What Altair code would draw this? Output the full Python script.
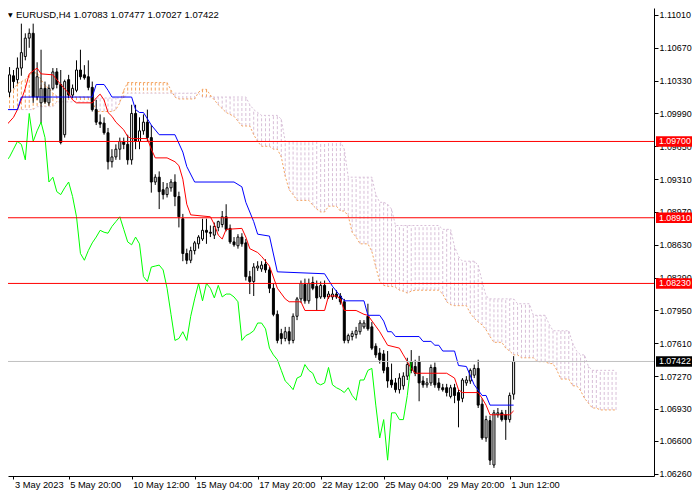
import altair as alt
import pandas as pd

# ---------------- data (EURUSD H4, bar 0 = 3 May 2023 04:00) ----------------
opens = [1.1013, 1.1021, 1.1038, 1.1034, 1.1046, 1.1058, 1.1077, 1.1082, 1.1016, 1.1010,
         1.1025, 1.1010, 1.1025, 1.1042, 1.1029, 1.0977, 1.1034, 1.1018, 1.1023, 1.1044,
         1.1039, 1.1037, 1.1026, 1.1003, 1.0990, 1.0989, 1.0979, 1.0949, 1.0954, 1.0962,
         1.0970, 1.0967, 1.0951, 1.0999, 1.0970, 1.0981, 1.0990, 1.0974, 1.0928, 1.0933,
         1.0920, 1.0915, 1.0922, 1.0928, 1.0913, 1.0890, 1.0854, 1.0847, 1.0857, 1.0864,
         1.0869, 1.0878, 1.0876, 1.0873, 1.0881, 1.0884, 1.0892, 1.0880, 1.0866, 1.0862,
         1.0871, 1.0865, 1.0830, 1.0825, 1.0839, 1.0838, 1.0843, 1.0837, 1.0818, 1.0791,
         1.0771, 1.0766, 1.0773, 1.0764, 1.0789, 1.0807, 1.0822, 1.0805, 1.0824, 1.0820,
         1.0809, 1.0821, 1.0809, 1.0809, 1.0812, 1.0810, 1.0804, 1.0764, 1.0768, 1.0770,
         1.0773, 1.0778, 1.0789, 1.0778, 1.0758, 1.0751, 1.0750, 1.0736, 1.0723, 1.0720,
         1.0713, 1.0717, 1.0727, 1.0742, 1.0737, 1.0742, 1.0722, 1.0718, 1.0720, 1.0736,
         1.0720, 1.0715, 1.0715, 1.0706, 1.0715, 1.0710, 1.0704, 1.0720, 1.0722, 1.0728,
         1.0735, 1.0698, 1.0663, 1.0681, 1.0635, 1.0687, 1.0689, 1.0687, 1.0682, 1.07083]
highs = [1.1029, 1.1047, 1.1044, 1.1057, 1.1092, 1.1082, 1.1087, 1.1092, 1.1052, 1.1065,
         1.1032, 1.1029, 1.1046, 1.1046, 1.1044, 1.1034, 1.1039, 1.1029, 1.1054, 1.1065,
         1.1049, 1.1054, 1.1032, 1.1013, 1.0998, 1.0995, 1.0984, 1.0962, 1.0967, 1.0974,
         1.0974, 1.0977, 1.1008, 1.1008, 1.0995, 1.0998, 1.1003, 1.0987, 1.0936, 1.0939,
         1.0928, 1.0927, 1.0931, 1.0936, 1.0918, 1.0895, 1.0859, 1.0861, 1.0867, 1.0873,
         1.0890, 1.0890, 1.0883, 1.0886, 1.0888, 1.0898, 1.0905, 1.0884, 1.0871, 1.0874,
         1.0875, 1.0869, 1.0836, 1.0844, 1.0846, 1.0846, 1.0848, 1.0840, 1.0823, 1.0795,
         1.0776, 1.0778, 1.0778, 1.0792, 1.0809, 1.0826, 1.0828, 1.0828, 1.0830, 1.0826,
         1.0825, 1.0826, 1.0815, 1.0818, 1.0816, 1.0813, 1.0807, 1.0771, 1.0774, 1.0778,
         1.0785, 1.0785, 1.0802, 1.0783, 1.0761, 1.0756, 1.0754, 1.0753, 1.0740, 1.0725,
         1.0730, 1.0731, 1.0746, 1.0754, 1.0744, 1.0748, 1.0727, 1.0725, 1.0739, 1.0741,
         1.0725, 1.0719, 1.0719, 1.0718, 1.0719, 1.0713, 1.0725, 1.0727, 1.0735, 1.0739,
         1.0744, 1.0704, 1.0686, 1.0686, 1.0692, 1.0694, 1.0692, 1.0692, 1.0710, 1.07477]
lows = [1.1010, 1.1016, 1.1025, 1.1030, 1.1038, 1.1054, 1.1067, 1.1010, 1.1013, 1.0989,
        1.1009, 1.1007, 1.1023, 1.1025, 1.0967, 1.0974, 1.1015, 1.1015, 1.1021, 1.1034,
        1.1034, 1.1023, 1.1001, 1.0987, 1.0984, 1.0977, 1.0941, 1.0943, 1.0951, 1.0951,
        1.0962, 1.0946, 1.0946, 1.0962, 1.0962, 1.0977, 1.0970, 1.0917, 1.0925, 1.0900,
        1.0910, 1.0912, 1.0918, 1.0903, 1.0881, 1.0846, 1.0843, 1.0844, 1.0853, 1.0859,
        1.0867, 1.0864, 1.0871, 1.0869, 1.0877, 1.0881, 1.0877, 1.0864, 1.0861, 1.0859,
        1.0861, 1.0826, 1.0812, 1.0810, 1.0836, 1.0835, 1.0834, 1.0813, 1.0789, 1.0761,
        1.0760, 1.0763, 1.0760, 1.0761, 1.0785, 1.0803, 1.0802, 1.0802, 1.0816, 1.0795,
        1.0807, 1.0807, 1.0807, 1.0806, 1.0807, 1.0801, 1.0761, 1.0761, 1.0764, 1.0766,
        1.0770, 1.0776, 1.0774, 1.0754, 1.0746, 1.0740, 1.0730, 1.0715, 1.0715, 1.0710,
        1.0709, 1.0713, 1.0723, 1.0730, 1.0727, 1.0701, 1.0715, 1.0715, 1.0717, 1.0715,
        1.0712, 1.0711, 1.0706, 1.0704, 1.0699, 1.0674, 1.0700, 1.0717, 1.0719, 1.0725,
        1.0694, 1.0661, 1.0659, 1.0635, 1.0632, 1.0684, 1.0680, 1.0661, 1.0679, 1.07027]
closes = [1.1023, 1.1039, 1.1032, 1.1046, 1.1062, 1.1077, 1.1082, 1.1016, 1.1037, 1.1025,
          1.1011, 1.1025, 1.1042, 1.1029, 1.0969, 1.1032, 1.1018, 1.1025, 1.1044, 1.1037,
          1.1036, 1.1026, 1.1003, 1.0990, 1.0988, 1.0979, 1.0949, 1.0954, 1.0962, 1.0970,
          1.0967, 1.0951, 1.0999, 1.0970, 1.0981, 1.0990, 1.0974, 1.0928, 1.0933, 1.0918,
          1.0915, 1.0922, 1.0928, 1.0913, 1.0892, 1.0854, 1.0847, 1.0857, 1.0865, 1.0871,
          1.0878, 1.0876, 1.0875, 1.0882, 1.0887, 1.0892, 1.0879, 1.0866, 1.0863, 1.0871,
          1.0864, 1.0830, 1.0825, 1.0840, 1.0841, 1.0842, 1.0837, 1.0818, 1.0791, 1.0764,
          1.0766, 1.0773, 1.0764, 1.0789, 1.0807, 1.0823, 1.0805, 1.0823, 1.0818, 1.0808,
          1.0821, 1.0809, 1.0812, 1.0812, 1.0809, 1.0804, 1.0764, 1.0769, 1.0771, 1.0774,
          1.0782, 1.0782, 1.0776, 1.0756, 1.0749, 1.0744, 1.0733, 1.0722, 1.0718, 1.0713,
          1.0725, 1.0727, 1.0739, 1.0733, 1.0730, 1.0720, 1.0718, 1.0720, 1.0736, 1.0718,
          1.0715, 1.0713, 1.0710, 1.0715, 1.0707, 1.0702, 1.0723, 1.0723, 1.0733, 1.0735,
          1.0697, 1.0663, 1.0682, 1.0640, 1.0689, 1.0689, 1.0682, 1.0682, 1.0707, 1.07422]

# Ichimoku cloud spans, one value per bar (bars 0..155)
senkou_a = [1.1023, 1.1023, 1.1023, 1.1030, 1.1032, 1.1034, 1.1039, 1.1041, 1.1041, 1.1034,
            1.1028, 1.1025, 1.1020, 1.1017, 1.1016, 1.1016, 1.1016, 1.1016, 1.1016, 1.1016,
            1.1016, 1.1016, 1.1013, 1.1001, 1.1001, 1.1001, 1.1001, 1.1001, 1.1003, 1.1010,
            1.1023, 1.1031, 1.1031, 1.1031, 1.1031, 1.1031, 1.1031, 1.1031, 1.1031, 1.1031,
            1.1031, 1.1031, 1.1023, 1.1016, 1.1014, 1.1014, 1.1014, 1.1014, 1.1014, 1.1021,
            1.1024, 1.1024, 1.1018, 1.1013, 1.1008, 1.1004, 1.1000, 1.0998, 1.0996, 1.0991,
            1.0986, 1.0986, 1.0986, 1.0977, 1.0970, 1.0965, 1.0965, 1.0965, 1.0962, 1.0962,
            1.0954, 1.0934, 1.0920, 1.0915, 1.0909, 1.0909, 1.0909, 1.0909, 1.0904, 1.0900,
            1.0897, 1.0897, 1.0903, 1.0903, 1.0903, 1.0898, 1.0898, 1.0893, 1.0876, 1.0871,
            1.0864, 1.0864, 1.0864, 1.0856, 1.0840, 1.0825, 1.0821, 1.0820, 1.0820, 1.0819,
            1.0816, 1.0815, 1.0813, 1.0815, 1.0816, 1.0816, 1.0816, 1.0816, 1.0816, 1.0816,
            1.0816, 1.0812, 1.0804, 1.0801, 1.0800, 1.0800, 1.0800, 1.0800, 1.0792, 1.0787,
            1.0783, 1.0780, 1.0775, 1.0768, 1.0762, 1.0762, 1.0762, 1.0756, 1.0753, 1.0749,
            1.0749, 1.0746, 1.0746, 1.0746, 1.0746, 1.0742, 1.0742, 1.0742, 1.0740, 1.0740,
            1.0733, 1.0724, 1.0724, 1.0724, 1.0717, 1.0717, 1.0712, 1.0704, 1.0699, 1.0694,
            1.0694, 1.0692, 1.0692, 1.0692, 1.0692, 1.0692]
senkou_b = [1.1003, 1.1003, 1.1003, 1.1003, 1.1003, 1.1003, 1.1003, 1.1003, 1.1006, 1.1006,
            1.1006, 1.1006, 1.1006, 1.1011, 1.1011, 1.1011, 1.1011, 1.1011, 1.1011, 1.1011,
            1.1011, 1.1011, 1.1015, 1.1015, 1.1015, 1.1015, 1.1015, 1.1015, 1.1015, 1.1015,
            1.1015, 1.1020, 1.1020, 1.1020, 1.1020, 1.1020, 1.1020, 1.1020, 1.1020, 1.1020,
            1.1020, 1.1020, 1.1020, 1.1020, 1.1020, 1.1020, 1.1020, 1.1020, 1.1020, 1.1020,
            1.1016, 1.1016, 1.1016, 1.1016, 1.1016, 1.1016, 1.1016, 1.1016, 1.1016, 1.1016,
            1.1016, 1.1016, 1.1008, 1.1003, 1.1000, 1.0997, 1.0997, 1.0997, 1.0997, 1.0997,
            1.0993, 1.0970, 1.0970, 1.0970, 1.0970, 1.0970, 1.0970, 1.0970, 1.0970, 1.0970,
            1.0970, 1.0970, 1.0970, 1.0970, 1.0970, 1.0970, 1.0962, 1.0933, 1.0933, 1.0933,
            1.0933, 1.0933, 1.0933, 1.0933, 1.0915, 1.0907, 1.0907, 1.0905, 1.0900, 1.0883,
            1.0883, 1.0883, 1.0883, 1.0883, 1.0883, 1.0883, 1.0883, 1.0883, 1.0883, 1.0883,
            1.0883, 1.0879, 1.0879, 1.0879, 1.0861, 1.0851, 1.0846, 1.0846, 1.0846, 1.0846,
            1.0842, 1.0825, 1.0810, 1.0807, 1.0807, 1.0807, 1.0807, 1.0807, 1.0807, 1.0807,
            1.0802, 1.0802, 1.0802, 1.0802, 1.0790, 1.0790, 1.0790, 1.0790, 1.0781, 1.0774,
            1.0774, 1.0774, 1.0774, 1.0774, 1.0761, 1.0753, 1.0749, 1.0749, 1.0737, 1.0733,
            1.0733, 1.0733, 1.0733, 1.0733, 1.0733, 1.0733]

# Tenkan-sen (red) and Kijun-sen (blue): vertices (bar, price)
tenkan_bar = [0, 2, 3, 4, 5, 6, 8, 9, 12, 14, 16, 17, 18, 22, 23, 24, 25, 26, 27, 28,
              30, 31, 32, 36, 37, 38, 41, 43, 44, 45, 46, 47, 52, 53, 54, 55, 56, 60, 61, 62,
              64, 65, 67, 69, 71, 72, 75, 76, 81, 82, 84, 85, 86, 89, 91, 92, 95, 97, 100, 101,
              102, 103, 104, 112, 114, 115, 116, 120, 121, 122, 123, 128, 129]
tenkan_val = [1.0986, 1.0995, 1.1003, 1.1013, 1.1025, 1.1040, 1.1046, 1.1040, 1.1039, 1.1029,
              1.1020, 1.1013, 1.1010, 1.1010, 1.1015, 1.1019, 1.1013, 1.1000, 1.0996, 1.0990,
              1.0982, 1.0975, 1.0973, 1.0973, 1.0962, 1.0953, 1.0953, 1.0949, 1.0945, 1.0931,
              1.0905, 1.0894, 1.0892, 1.0884, 1.0873, 1.0869, 1.0879, 1.0880, 1.0871, 1.0859,
              1.0855, 1.0851, 1.0841, 1.0818, 1.0807, 1.0804, 1.0804, 1.0795, 1.0795, 1.0810,
              1.0810, 1.0807, 1.0795, 1.0795, 1.0791, 1.0790, 1.0773, 1.0759, 1.0756, 1.0749,
              1.0742, 1.0735, 1.0730, 1.0730, 1.0725, 1.0713, 1.0710, 1.0710, 1.0704, 1.0697,
              1.0687, 1.0687, 1.0691]
kijun_bar = [0, 3, 4, 22, 23, 25, 26, 27, 32, 33, 34, 35, 37, 39, 43, 45, 46, 48, 58, 60,
             61, 63, 64, 67, 69, 81, 83, 86, 91, 92, 95, 96, 97, 98, 99, 105, 106, 108, 109, 110,
             111, 114, 115, 117, 119, 121, 122, 123, 129]
kijun_val = [1.1003, 1.1003, 1.1016, 1.1016, 1.1029, 1.1029, 1.1023, 1.1016, 1.1016, 1.1003,
             1.1000, 1.1000, 1.0987, 1.0977, 1.0977, 1.0959, 1.0944, 1.0928, 1.0928, 1.0923,
             1.0907, 1.0887, 1.0874, 1.0872, 1.0835, 1.0833, 1.0820, 1.0805, 1.0805, 1.0790,
             1.0790, 1.0784, 1.0773, 1.0773, 1.0768, 1.0768, 1.0763, 1.0763, 1.0759, 1.0759,
             1.0753, 1.0753, 1.0738, 1.0737, 1.0718, 1.0707, 1.0707, 1.0697, 1.0697]
chikou_shift = 26

levels = [1.0970, 1.0891, 1.0823]
level_labels = ["1.09700", "1.08910", "1.08230"]
bid = [1.07422]
bid_labels = ["1.07422"]

y_ticks = [1.0626, 1.0660, 1.0693, 1.0727, 1.0761, 1.0795, 1.0829, 1.0863,
           1.0897, 1.0931, 1.0965, 1.0999, 1.1033, 1.1067, 1.1101]
x_tick_bars = [2, 16, 32, 48, 64, 80, 96, 112, 128]
x_tick_text = ["3 May 2023", "5 May 20:00", "10 May 12:00", "15 May 04:00", "17 May 20:00",
               "22 May 12:00", "25 May 04:00", "29 May 20:00", "1 Jun 12:00"]
title_text = "EURUSD,H4  1.07083 1.07477 1.07027 1.07422"

# ---------------- tables ----------------
bars = list(range(len(opens)))
candles = pd.DataFrame({"bar": bars, "open": opens, "high": highs, "low": lows, "close": closes})
candles["fill"] = ["white" if c > o else "black" for o, c in zip(opens, closes)]

cloud = pd.DataFrame({"bar": list(range(len(senkou_a))), "a": senkou_a, "b": senkou_b})
cloud["col"] = ["#F4A460" if a > b else "#D8BFD8" for a, b in zip(senkou_a, senkou_b)]

chikou = pd.DataFrame({"bar": [b - chikou_shift for b in bars[chikou_shift:]],
                       "v": closes[chikou_shift:]})
tenkan = pd.DataFrame({"bar": tenkan_bar, "v": tenkan_val})
kijun = pd.DataFrame({"bar": kijun_bar, "v": kijun_val})
lev = pd.DataFrame({"p": levels, "label": level_labels})
bidf = pd.DataFrame({"p": bid, "label": bid_labels})

FONT = "Liberation Sans"
xs = alt.Scale(domain=[1.875, 163.375], nice=False, zero=False)
ys = alt.Scale(domain=[1.06236, 1.11082], nice=False, zero=False)

label_expr = " : ".join(f"datum.value == {b} ? '{t}'" for b, t in zip(x_tick_bars, x_tick_text)) + " : ''"
x_axis = alt.Axis(values=x_tick_bars, labelExpr=label_expr, labelAlign="left", labelBaseline="top",
                  labelFlush=False, labelOverlap=False, labelPadding=1, labelOffset=1,
                  tickSize=3, tickColor="black", domainColor="black", labelColor="black",
                  labelFont=FONT, labelFontSize=9.3, grid=False, title=None)
y_axis = alt.Axis(orient="right", values=y_ticks, format=".5f", labelOverlap=False,
                  labelFlush=False, labelPadding=1, tickSize=4, tickColor="black",
                  domainColor="black", labelColor="black", labelFont=FONT, labelFontSize=8.9,
                  labelBaseline="middle", grid=False, title=None)


def X(f):
    return alt.X(f, type="quantitative", scale=xs, axis=x_axis, title=None)


def Y(f):
    return alt.Y(f, type="quantitative", scale=ys, axis=y_axis, title=None)


hatch = alt.Chart(cloud).mark_rule(strokeWidth=1, strokeDash=[3, 2], clip=True).encode(
    x=X("bar"), y=Y("a"), y2="b", color=alt.Color("col:N", scale=None))
line_a = alt.Chart(cloud).mark_line(color="#F4A460", strokeWidth=1, strokeDash=[2, 2], clip=True).encode(
    x=X("bar"), y=Y("a"))
line_b = alt.Chart(cloud).mark_line(color="#D8BFD8", strokeWidth=1, strokeDash=[2, 2], clip=True).encode(
    x=X("bar"), y=Y("b"))
wicks = alt.Chart(candles).mark_rule(color="black", strokeWidth=1, clip=True).encode(
    x=X("bar"), y=Y("low"), y2="high")
bodies = alt.Chart(candles).mark_bar(size=2, stroke="black", strokeWidth=1, clip=True).encode(
    x=X("bar"), y=Y("open"), y2="close", fill=alt.Fill("fill:N", scale=None))
l_tenkan = alt.Chart(tenkan).mark_line(color="#FF0000", strokeWidth=1, clip=True).encode(
    x=X("bar"), y=Y("v"))
l_kijun = alt.Chart(kijun).mark_line(color="#0000FF", strokeWidth=1, clip=True).encode(
    x=X("bar"), y=Y("v"))
l_chikou = alt.Chart(chikou).mark_line(color="#00FF00", strokeWidth=1, clip=True).encode(
    x=X("bar"), y=Y("v"))
lvl_lines = alt.Chart(lev).mark_rule(color="#FF0000", strokeWidth=1).encode(y=Y("p"))
bid_line = alt.Chart(bidf).mark_rule(color="#C0C0C0", strokeWidth=1).encode(y=Y("p"))

lvl_box = alt.Chart(lev).transform_calculate(lo="datum.p - 0.00054", hi="datum.p + 0.00054").mark_rect(
    color="#FF0000").encode(y=Y("lo:Q"), y2="hi:Q", x=alt.value(648), x2=alt.value(686))
lvl_txt = alt.Chart(lev).mark_text(align="left", baseline="middle", color="white", font=FONT,
                                   fontSize=8.8).encode(y=Y("p"), x=alt.value(651), text="label:N")
bid_box = alt.Chart(bidf).transform_calculate(lo="datum.p - 0.00054", hi="datum.p + 0.00054").mark_rect(
    color="black").encode(y=Y("lo:Q"), y2="hi:Q", x=alt.value(648), x2=alt.value(686))
bid_txt = alt.Chart(bidf).mark_text(align="left", baseline="middle", color="white", font=FONT,
                                    fontSize=8.8).encode(y=Y("p"), x=alt.value(651), text="label:N")

title_df = pd.DataFrame({"t": [title_text]})
title = alt.Chart(title_df).mark_text(align="left", baseline="top", color="black", font=FONT,
                                      fontSize=9.5).encode(x=alt.value(8), y=alt.value(2), text="t:N")
tri = alt.Chart(pd.DataFrame({"t": ["\u25BC"]})).mark_text(align="left", baseline="top", color="black",
                                                           font="DejaVu Sans", fontSize=6).encode(
    x=alt.value(0), y=alt.value(4), text="t:N")

chart = alt.layer(
    hatch, line_a, line_b, wicks, bodies, l_tenkan, l_kijun, l_chikou,
    lvl_lines, bid_line, lvl_box, lvl_txt, bid_box, bid_txt, title, tri
).properties(
    width=646, height=468,
    autosize=alt.AutoSizeParams(type="none"),
    padding={"left": 0, "top": 0, "right": 38, "bottom": 16},
    background="white",
).configure_view(stroke=None)

chart.save("out.html", embed_options={"renderer": "svg", "actions": False})
